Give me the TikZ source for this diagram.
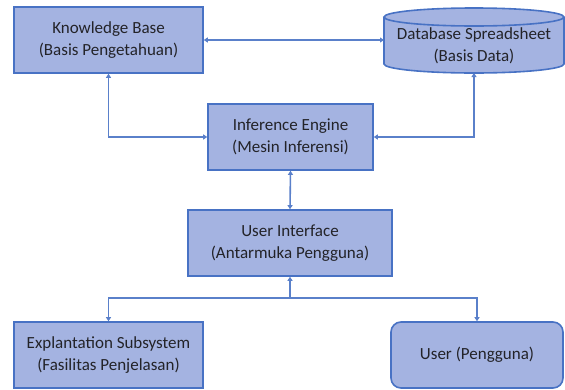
\documentclass[tikz,border=0pt]{standalone}
\usepackage{fontspec}
\setmainfont{Carlito}
\usetikzlibrary{arrows.meta}
\definecolor{boxfill}{RGB}{164,179,225}
\definecolor{boxline}{RGB}{72,114,196}
\definecolor{txt}{RGB}{35,35,40}
\begin{document}
\begin{tikzpicture}[x=1pt,y=-1pt,
  box/.style={draw=boxline,line width=1.6pt,fill=boxfill,minimum height=66pt,inner sep=0pt,align=center,text=txt,font=\fontsize{17}{21.5}\selectfont},
  conn/.style={draw=boxline!90!white,line width=1.6pt,{Triangle[width=5pt,length=4pt]}-{Triangle[width=5pt,length=4pt]}},
  one/.style={draw=boxline!90!white,line width=1.6pt,-{Triangle[width=5pt,length=4pt]}}]
\useasboundingbox (0,0) rectangle (565,389);
\node[box,minimum width=189pt] (kb) at (108.5,40) {Knowledge Base\\(Basis Pengetahuan)};
% cylinder
\fill[boxfill] (384,17) -- (384,64) arc[start angle=180,end angle=360,x radius=90pt,y radius=9pt] -- (564,17) -- cycle;
\draw[boxline,line width=1.6pt] (384,17) -- (384,64) arc[start angle=180,end angle=360,x radius=90pt,y radius=9pt] -- (564,17);
\draw[boxline,line width=1.6pt,fill=boxfill] (474,17) ellipse[x radius=90pt,y radius=9pt];
\node[align=center,text=txt,font=\fontsize{17}{21.5}\selectfont,minimum width=180pt,minimum height=65pt,inner sep=0pt] (db) at (474,46) {Database Spreadsheet\\(Basis Data)};
\node[box,minimum width=165pt] (ie) at (290.5,137) {Inference Engine\\(Mesin Inferensi)};
\node[box,minimum width=204pt] (ui) at (290,243) {User Interface\\(Antarmuka Pengguna)};
\node[box,minimum width=189pt] (ex) at (108.5,355) {Explantation Subsystem\\(Fasilitas Penjelasan)};
\node[box,minimum width=172pt,rounded corners=10pt] (us) at (477,355) {User (Pengguna)};
\coordinate (dbw) at (384,40);
\coordinate (dbs) at (474,73);
\coordinate (j) at (290,298);
\draw[conn] (kb.east) -- (dbw);
\draw[conn] (kb.south) |- (ie.west);
\draw[conn] (dbs) |- (ie.east);
\draw[conn] (ie.south) -- (ui.north);
\draw[one] (j) -- (ui.south);
\draw[one] (j) -| (ex.north);
\draw[one] (j) -| (us.north);
\end{tikzpicture}
\end{document}
